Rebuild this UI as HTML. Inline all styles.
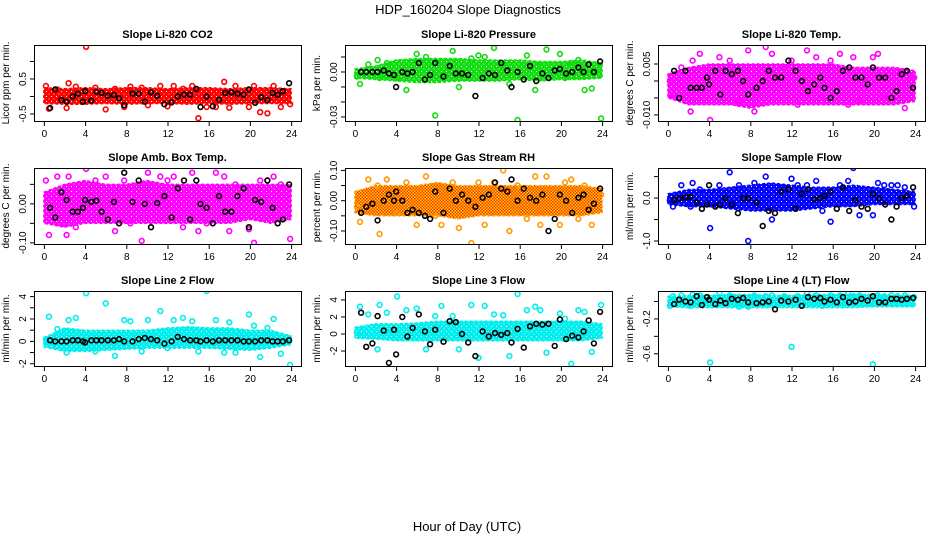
<!DOCTYPE html>
<html><head><meta charset="utf-8">
<style>
html,body{margin:0;padding:0;background:#fff;}
svg{display:block;font-family:"Liberation Sans",sans-serif;}
</style></head>
<body>
<svg id="fig" width="936" height="540" viewBox="0 0 936 540">
<defs id="defs">
<pattern id="rhpat" width="3" height="3" patternUnits="userSpaceOnUse">
<rect width="3" height="3" fill="#ffd000"/><rect width="1.5" height="1.5" fill="#ff3000"/><rect x="1.5" y="1.5" width="1.5" height="1.5" fill="#ff3000"/>
</pattern>
</defs>
<text x="468" y="14" text-anchor="middle" font-size="13">HDP_160204  Slope Diagnostics</text>
<text x="467" y="531" text-anchor="middle" font-size="13">Hour of Day (UTC)</text>
</svg>
<script>
const xTicks=[0,4,8,12,16,20,24];
const bandHours=[0,2,4,6,8,10,12,14,16,18,20,22,24];
const colorHours=[0.2,0.5,1.3,2.2,2.4,3.1,4.1,5.0,6.0,6.9,7.8,8.4,9.5,10.1,11.3,12.0,12.6,13.5,14.4,15.0,15.8,16.7,17.5,18.0,18.6,19.9,20.4,21.0,21.7,22.3,23.0,23.9];
const blackHours=[0.6,1.1,1.7,2.2,2.8,3.3,3.8,4.0,4.6,5.1,5.6,6.2,6.8,7.3,7.8,8.6,9.2,9.8,10.4,11.0,11.7,12.4,13.0,13.6,14.2,14.8,15.2,15.8,16.4,17.0,17.6,18.2,18.8,19.4,19.9,20.5,21.1,21.7,22.2,22.7,23.2,23.8];

const co2BandLo=[-0.2,-0.22,-0.22,-0.2,-0.22,-0.2,-0.2,-0.22,-0.2,-0.22,-0.2,-0.2,-0.2];
const co2BandHi=[0.25,0.22,0.25,0.22,0.25,0.25,0.22,0.25,0.25,0.22,0.25,0.25,0.22];
const co2Vals=[0.3,-0.35,0.2,-0.33,0.38,0.28,1.42,0.25,-0.37,0.22,-0.3,0.28,0.25,-0.25,0.3,-0.28,0.3,0.22,0.3,-0.62,-0.3,-0.3,0.42,-0.32,0.3,-0.3,0.3,-0.45,-0.48,0.3,-0.3,-0.22];
const co2Black=[-0.33,0.2,-0.1,-0.15,0.0,0.08,-0.15,0.15,-0.12,0.13,0.1,0.02,0.04,-0.05,-0.25,0.08,0.08,-0.15,0.12,0.02,-0.22,-0.17,0.0,0.05,0.05,0.22,-0.3,0.0,-0.28,-0.1,0.1,0.12,0.08,0.05,0.2,-0.18,-0.02,-0.1,0.1,0.05,0.15,0.38];

const presBandLo=[-0.004,-0.005,-0.006,-0.007,-0.007,-0.006,-0.006,-0.006,-0.005,-0.006,-0.005,-0.005,-0.004];
const presBandHi=[0.002,0.004,0.008,0.009,0.009,0.009,0.008,0.008,0.008,0.007,0.007,0.008,0.006];
const presVals=[-0.003,-0.008,0.005,0.008,-0.004,0.006,-0.004,-0.012,0.012,0.01,-0.029,0.007,0.014,-0.01,0.009,0.011,0.01,0.016,0.004,-0.008,-0.032,0.011,-0.012,0.004,0.015,0.012,-0.004,0.006,0.008,-0.012,-0.011,-0.031];
const presBlack=[0,0,0,0,0.001,-0.001,-0.002,-0.01,0,-0.001,0,0.006,-0.005,-0.002,0.006,-0.003,0.004,-0.001,-0.001,-0.002,-0.016,-0.004,-0.001,-0.002,0.006,0.001,-0.01,0,-0.005,0.004,-0.006,-0.001,-0.004,0.001,0.002,-0.001,0,0.003,0,0.005,0,0.007];

const tempBandLo=[-0.005,-0.007,-0.007,-0.007,-0.008,-0.007,-0.007,-0.007,-0.007,-0.007,-0.007,-0.007,-0.006];
const tempBandHi=[0.002,0.004,0.005,0.005,0.005,0.005,0.005,0.005,0.005,0.004,0.004,0.004,0.003];
const tempVals=[0.0,-0.004,0.004,-0.009,0.006,0.008,-0.0115,0.007,0.006,-0.006,0.009,-0.009,0.01,0.008,0.004,0.006,-0.007,0.009,0.007,-0.005,0.006,0.008,-0.007,0.007,-0.006,0.007,0.008,-0.005,-0.005,0.003,-0.008,0.001];
const tempBlack=[0.003,-0.005,0.003,-0.002,-0.002,-0.002,0.001,-0.001,0.003,-0.004,0.003,0.002,0.003,0.0,-0.004,-0.002,0.0,0.003,0.001,0.001,0.006,0.003,0.0,-0.003,-0.001,0.001,-0.002,-0.005,-0.003,0.003,0.004,0.001,0.001,-0.001,0.004,0.001,0.001,-0.005,-0.003,0.002,0.003,-0.002];

const ambBandLo=[-0.05,-0.06,-0.05,-0.05,-0.05,-0.05,-0.05,-0.05,-0.05,-0.05,-0.04,-0.05,-0.04];
const ambBandHi=[0.03,0.05,0.06,0.05,0.05,0.06,0.05,0.05,0.05,0.05,0.05,0.05,0.05];
const ambVals=[0.06,-0.08,0.07,-0.08,0.07,-0.06,0.09,0.06,0.07,-0.07,0.06,-0.05,-0.095,0.08,0.07,0.06,0.07,-0.06,0.08,-0.07,-0.05,0.08,0.07,-0.07,0.05,-0.065,-0.1,0.06,0.06,0.07,0.05,-0.09];
const ambBlack=[-0.01,-0.035,0.03,0.01,-0.02,-0.02,-0.01,0.01,0.005,0.008,-0.02,-0.04,0.005,-0.05,0.08,0.005,0.06,0.0,-0.06,0.002,0.02,-0.035,0.04,0.06,-0.04,0.06,0.0,-0.01,-0.05,0.02,-0.02,-0.02,0.02,0.04,-0.06,0.01,0.005,0.06,-0.01,-0.05,-0.04,0.05];

const rhBandLo=[-0.04,-0.05,-0.05,-0.05,-0.05,-0.06,-0.05,-0.05,-0.05,-0.05,-0.05,-0.05,-0.04];
const rhBandHi=[0.03,0.05,0.05,0.05,0.06,0.05,0.05,0.05,0.05,0.05,0.05,0.05,0.04];
const rhVals=[-0.02,-0.07,0.07,0.05,-0.11,0.07,-0.04,0.06,-0.08,0.08,-0.05,-0.08,0.06,-0.09,-0.14,0.06,-0.08,0.06,0.1,-0.1,0.05,-0.06,0.08,-0.08,0.08,-0.08,0.06,0.07,-0.06,0.05,-0.08,0.02];
const rhBlack=[-0.04,-0.02,-0.01,-0.065,0.0,0.02,0.0,0.03,0.0,-0.04,-0.03,-0.04,-0.05,-0.06,0.03,-0.04,0.04,0.0,0.02,0.0,-0.02,0.01,0.02,0.06,0.04,0.03,0.07,0.0,0.04,0.01,0.0,0.02,-0.1,-0.06,0.02,0.0,-0.04,0.01,0.02,-0.03,-0.01,0.04];

const flowBandLo=[-0.15,-0.2,-0.2,-0.25,-0.3,-0.3,-0.3,-0.25,-0.2,-0.2,-0.15,-0.15,-0.15];
const flowBandHi=[0.1,0.2,0.2,0.25,0.3,0.35,0.3,0.25,0.25,0.3,0.25,0.2,0.15];
const flowVals=[-0.05,-0.2,0.3,-0.2,0.35,0.2,-0.7,0.3,0.6,0.3,-1.0,0.35,0.5,-0.5,0.25,0.45,0.3,0.3,0.4,-0.3,-0.55,0.3,0.4,0.7,-0.4,-0.4,0.35,0.3,0.3,0.3,0.25,-0.2];
const flowBlack=[-0.05,0.0,0.02,0.03,-0.1,-0.25,-0.15,0.3,-0.2,-0.15,0.0,-0.15,-0.35,0.0,0.0,-0.1,-0.65,-0.3,-0.35,0.15,0.2,-0.25,0.1,0.2,-0.03,0.0,0.05,0.15,-0.25,0.25,-0.3,-0.05,-0.2,-0.25,0.1,0.0,-0.15,-0.5,-0.2,0.0,0.05,0.25];

const l2BandLo=[-0.5,-0.9,-0.9,-0.8,-0.7,-0.6,-0.6,-0.6,-0.6,-0.7,-0.8,-0.6,-0.3];
const l2BandHi=[0.3,1.2,1.0,1.0,1.0,1.0,1.2,1.3,1.2,1.2,1.0,1.0,0.5];
const l2Vals=[0.2,2.2,1.1,-1.0,1.9,2.1,4.3,-0.9,3.4,-1.3,1.9,1.8,-0.9,1.9,2.7,-0.6,1.9,2.1,1.8,-0.9,4.5,1.9,-1.0,1.7,-1.0,2.4,1.4,-1.4,1.2,2.0,-1.1,-2.1];
const l2Black=[0.1,0,0,0,0.1,0.1,0,-0.1,0.1,0.1,0.1,0.1,0.1,0.2,0,0,0.2,0.3,0.2,0.1,-0.2,0,0.4,0.2,0.1,0.1,0,0.1,0,0.1,0.1,0.1,0.1,0,0,0,0.1,0.1,0,0,0,0.1];

const l3BandLo=[-0.5,-0.6,-0.8,-0.8,-0.8,-0.8,-0.8,-0.8,-0.8,-0.8,-0.8,-0.8,-0.5];
const l3BandHi=[0.8,1.2,1.2,1.3,1.5,1.5,1.5,1.5,1.5,1.5,1.5,1.5,1.2];
const l3Vals=[0.2,3.2,2.3,-1.8,3.4,2.5,4.4,2.8,3.0,-1.8,2.1,3.3,2.1,-1.8,3.4,-2.8,3.3,2.3,2.2,-2.6,4.7,2.8,3.2,2.8,-2.2,2.4,1.8,-3.5,2.8,2.6,-2.1,3.4];
const l3Black=[2.5,-1.5,-1.1,2.1,0.4,-3.4,0.5,-2.4,2.0,-0.3,0.7,2.3,0.3,-1.2,0.5,-0.9,1.5,1.4,0,-1.0,-2.6,0.3,-0.3,0.1,-0.1,0.1,-1.0,0.6,-1.6,0.9,1.2,1.1,1.2,-1.4,1.7,-0.6,-0.2,-0.4,0.3,1.6,-1.1,2.6];

const l4BandLo=[-0.06,-0.07,-0.07,-0.07,-0.07,-0.07,-0.07,-0.07,-0.07,-0.07,-0.06,-0.06,-0.06];
const l4BandHi=[0.06,0.07,0.07,0.08,0.08,0.07,0.07,0.08,0.08,0.08,0.08,0.07,0.07];
const l4Vals=[-0.05,0.06,0.07,-0.05,0.08,0.07,-0.7,0.1,0.07,-0.06,-0.06,0.07,0.06,0.07,0.06,-0.52,0.06,0.1,0.07,-0.05,0.07,0.07,0.1,0.06,0.07,-0.72,0.07,0.06,0.07,0.06,0.07,0.05];
const l4Black=[-0.03,0.02,0.0,-0.01,0.06,-0.04,0.05,0.02,-0.03,0.01,-0.02,0.03,0.02,0.04,-0.01,-0.02,-0.01,0.0,-0.09,0.01,0.0,0.02,-0.05,0.05,0.03,0.04,0.0,0.02,-0.01,0.05,-0.01,0.0,0.03,0.01,0.06,-0.01,-0.01,0.03,0.03,0.02,0.03,0.04];

const co2Ticks=[-0.5,0,0.5,1.0], co2Labels=["-0.5","","0.5",""];
const presTicks=[-0.03,-0.02,-0.01,0,0.01], presLabels=["-0.03","","","0.00",""];
const tempTicks=[-0.01,-0.005,0,0.005], tempLabels=["-0.010","","","0.005"];
const ambTicks=[-0.1,-0.05,0,0.05], ambLabels=["-0.10","","0.00",""];
const rhTicks=[-0.1,-0.05,0,0.05,0.1], rhLabels=["-0.10","","0.00","","0.10"];
const flowTicks=[-1,-0.5,0,0.5], flowLabels=["-1.0","","0.0",""];
const l2Ticks=[-2,-1,0,1,2,3,4], l2Labels=["-2","","0","","2","","4"];
const l3Ticks=[-4,-2,0,2,4], l3Labels=["","-2","0","2","4"];
const l4Ticks=[-0.8,-0.6,-0.4,-0.2,0], l4Labels=["","-0.6","","-0.2",""];

const NS="http://www.w3.org/2000/svg";
const svg=document.getElementById('fig');
const defs=document.getElementById('defs');
function mk(tag,attrs,parent){const e=document.createElementNS(NS,tag);for(const k in attrs)e.setAttribute(k,attrs[k]);(parent||svg).appendChild(e);return e;}
let patN=0;
function ringPattern(color){
  const id='pat'+(patN++);
  const p=mk('pattern',{id:id,width:5,height:5,patternUnits:'userSpaceOnUse'},defs);
  mk('rect',{width:5,height:5,fill:color},p);
  mk('rect',{x:1,y:1,width:1,height:1,fill:'#fff'},p);
  mk('rect',{x:3.5,y:3.5,width:1,height:1,fill:'#fff',opacity:0.7},p);
  return 'url(#'+id+')';
}

function panel(id,title,ylab,box,ymin,ymax,ticks,labels,color,bandFill,lo,hi,vals,blk){
  const g=mk('g',{});
  
  
  const [L,R,T,B]=box;
  const xs=h=>L+(R-L)*(h+0.96)/25.92;
  const ys=v=>B-(B-T)*(v-ymin)/(ymax-ymin);
  const clip=mk('clipPath',{id:'clip-'+id},g);
  mk('rect',{x:L,y:T,width:R-L,height:B-T},clip);
  const data=mk('g',{'clip-path':'url(#clip-'+id+')'},g);
  let pts=[];
  for(let i=0;i<bandHours.length;i++)pts.push(xs(bandHours[i]).toFixed(1)+','+ys(hi[i]).toFixed(1));
  for(let i=bandHours.length-1;i>=0;i--)pts.push(xs(bandHours[i]).toFixed(1)+','+ys(lo[i]).toFixed(1));
  const fill=bandFill||ringPattern(color);
  const band=mk('polygon',{points:pts.join(' '),fill:fill,stroke:color,'stroke-width':1.5,'stroke-dasharray':'3 2','stroke-linejoin':'round'},data);
  
  
  for(let i=0;i<Math.min(vals.length,colorHours.length);i++){
    const c=mk('circle',{cx:xs(colorHours[i]).toFixed(1),cy:ys(vals[i]).toFixed(1),r:2.4,fill:'none',stroke:color,'stroke-width':1.6},data);
    
    
  }
  for(let i=0;i<Math.min(blk.length,blackHours.length);i++){
    const c=mk('circle',{cx:xs(blackHours[i]).toFixed(1),cy:ys(blk[i]).toFixed(1),r:2.4,fill:'none',stroke:'#000','stroke-width':1.6},data);
    
    
  }
  const frame=mk('rect',{x:L+0.5,y:T+0.5,width:R-L,height:B-T,fill:'none',stroke:'#000','stroke-width':1},g);
  
  
  const t=mk('text',{x:(L+R)/2,y:T-7,'text-anchor':'middle','font-size':11,'font-weight':'bold'},g);
  t.textContent=title;
  
  
  xTicks.forEach(h=>{
    const x=xs(h)+0.5;
    mk('line',{x1:x,x2:x,y1:B+0.5,y2:B+5,stroke:'#000'},g);
    const tl=mk('text',{x:x,y:B+16,'text-anchor':'middle','font-size':10},g);
    tl.textContent=h;
    
    
  });
  ticks.forEach((v,i)=>{
    const y=ys(v);
    if(y<T-1||y>B+1)return;
    mk('line',{x1:L-4,x2:L+0.5,y1:y,y2:y,stroke:'#000'},g);
    if(labels[i]){
      const tl=mk('text',{x:0,y:0,'text-anchor':'middle','font-size':10,transform:'translate('+(L-8)+','+y.toFixed(1)+') rotate(-90)'},g);
      tl.textContent=labels[i];
      
      
    }
  });
  const yl=mk('text',{x:0,y:0,'text-anchor':'middle','font-size':10,transform:'translate('+(L-25)+','+((T+B)/2)+') rotate(-90)'},g);
  yl.textContent=ylab;
  
  
}

const C1=[34,301],C2=[345,612],C3=[658,925];
const R1=[45,121],R2=[168,244],R3=[291,366];
panel('co2','Slope Li-820 CO2','Licor ppm per min.',[...C1,...R1],-0.7,1.47,co2Ticks,co2Labels,'#ff0000',null,co2BandLo,co2BandHi,co2Vals,co2Black);
panel('pressure','Slope Li-820 Pressure','kPa per min.',[...C2,...R1],-0.0327,0.018,presTicks,presLabels,'#11dd11',null,presBandLo,presBandHi,presVals,presBlack);
panel('temp','Slope Li-820 Temp.','degrees C per min.',[...C3,...R1],-0.0118,0.0106,tempTicks,tempLabels,'#ff00ff',null,tempBandLo,tempBandHi,tempVals,tempBlack);
panel('ambbox','Slope Amb. Box Temp.','degrees C per min.',[...C1,...R2],-0.103,0.092,ambTicks,ambLabels,'#ff00ff',null,ambBandLo,ambBandHi,ambVals,ambBlack);
panel('rh','Slope Gas Stream RH','percent per min.',[...C2,...R2],-0.143,0.108,rhTicks,rhLabels,'#ff9900','url(#rhpat)',rhBandLo,rhBandHi,rhVals,rhBlack);
panel('sampleflow','Slope Sample Flow','ml/min per min.',[...C3,...R2],-1.07,0.70,flowTicks,flowLabels,'#0000ff',null,flowBandLo,flowBandHi,flowVals,flowBlack);
panel('line2','Slope Line 2 Flow','ml/min per min.',[...C1,...R3],-2.2,4.5,l2Ticks,l2Labels,'#00eeee',null,l2BandLo,l2BandHi,l2Vals,l2Black);
panel('line3','Slope Line 3 Flow','ml/min per min.',[...C2,...R3],-3.76,5.05,l3Ticks,l3Labels,'#00eeee',null,l3BandLo,l3BandHi,l3Vals,l3Black);
panel('line4','Slope Line 4 (LT) Flow','ml/min per min.',[...C3,...R3],-0.74,0.12,l4Ticks,l4Labels,'#00eeee',null,l4BandLo,l4BandHi,l4Vals,l4Black);
</script>
</body></html>
